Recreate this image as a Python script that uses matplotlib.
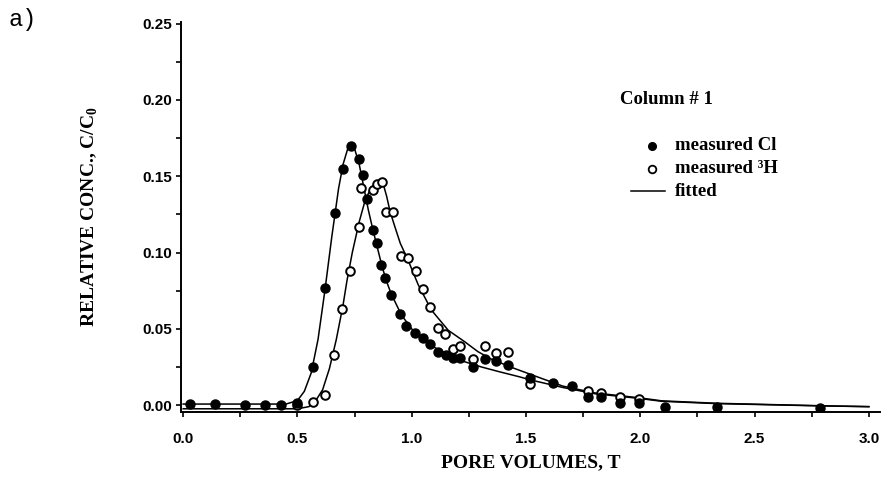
import matplotlib.pyplot as plt
from matplotlib.ticker import MultipleLocator, FormatStrFormatter

# measured Cl (filled circles)
cl_x = [0.03, 0.14, 0.27, 0.36, 0.43, 0.50, 0.567, 0.62, 0.664, 0.70, 0.736, 0.768,
        0.787, 0.806, 0.83, 0.85, 0.867, 0.885, 0.91, 0.948, 0.977, 1.016, 1.05, 1.08,
        1.117, 1.15, 1.18, 1.21, 1.27, 1.32, 1.37, 1.42, 1.516, 1.62, 1.70, 1.77, 1.83,
        1.91, 1.995, 2.11, 2.335, 2.787]
cl_y = [0.001, 0.001, 0.0, 0.0, 0.0, 0.0015, 0.025, 0.077, 0.1256, 0.155, 0.1697, 0.161,
        0.151, 0.135, 0.115, 0.106, 0.092, 0.083, 0.072, 0.060, 0.052, 0.047, 0.044, 0.040,
        0.0345, 0.033, 0.031, 0.031, 0.025, 0.0305, 0.029, 0.026, 0.018, 0.0144, 0.0125,
        0.0054, 0.005, 0.0015, 0.0015, -0.001, -0.001, -0.002]

# measured 3H (open circles)
h_x = [0.50, 0.568, 0.622, 0.66, 0.695, 0.73, 0.768, 0.78, 0.83, 0.85, 0.87, 0.886,
       0.918, 0.952, 0.984, 1.02, 1.05, 1.08, 1.114, 1.145, 1.18, 1.21, 1.27, 1.32,
       1.37, 1.42, 1.516, 1.77, 1.83, 1.91, 1.995]
h_y = [0.0, 0.002, 0.0066, 0.033, 0.063, 0.088, 0.1168, 0.1424, 0.141, 0.1446, 0.146,
       0.1267, 0.1267, 0.098, 0.0966, 0.0878, 0.076, 0.0646, 0.0504, 0.0465, 0.037,
       0.039, 0.030, 0.039, 0.034, 0.0345, 0.0137, 0.009, 0.008, 0.0054, 0.0037]

# fitted curves
fit_cl_x = [0.0, 0.45, 0.50, 0.53, 0.56, 0.59, 0.62, 0.65, 0.68, 0.70, 0.72, 0.735,
            0.75, 0.77, 0.79, 0.81, 0.83, 0.85, 0.87, 0.89, 0.91, 0.955, 1.01, 1.085,
            1.16, 1.23, 1.305, 1.38, 1.47, 1.52, 1.66, 1.80, 1.995, 2.094, 2.335, 2.787, 3.0]
fit_cl_y = [0.0007, 0.0007, 0.003, 0.009, 0.021, 0.043, 0.075, 0.110, 0.142, 0.158,
            0.168, 0.1715, 0.168, 0.158, 0.143, 0.128, 0.115, 0.103, 0.091, 0.081, 0.073,
            0.059, 0.048, 0.039, 0.033, 0.0285, 0.025, 0.022, 0.0186, 0.0165, 0.0116,
            0.0075, 0.0044, 0.0025, 0.001, -0.0005, -0.001]

fit_h_x = [0.0, 0.50, 0.55, 0.58, 0.61, 0.64, 0.67, 0.70, 0.716, 0.74, 0.77, 0.794,
           0.82, 0.845, 0.86, 0.875, 0.89, 0.905, 0.926, 0.95, 0.984, 1.028, 1.086,
           1.16, 1.232, 1.29, 1.35, 1.45, 1.55, 1.66, 1.80, 1.995, 2.094, 2.335, 2.787, 3.0]
fit_h_y = [-0.0024, -0.0024, -0.001, 0.003, 0.010, 0.024, 0.043, 0.066, 0.081, 0.100,
           0.120, 0.133, 0.142, 0.1465, 0.1474, 0.145, 0.137, 0.127, 0.117, 0.106, 0.095,
           0.079, 0.0623, 0.049, 0.0415, 0.035, 0.030, 0.024, 0.0185, 0.0125, 0.008,
           0.0048, 0.0028, 0.0012, -0.0004, -0.001]

xticks = [0.0, 0.5, 1.0, 1.5, 2.0, 2.5, 3.0]
yticks = [0.00, 0.05, 0.10, 0.15, 0.20, 0.25]

plt.rcParams['mathtext.fontset'] = 'custom'
plt.rcParams['mathtext.rm'] = 'Liberation Serif:bold'
plt.rcParams['mathtext.bf'] = 'Liberation Serif:bold'

fig = plt.figure(figsize=(8.91, 4.80), dpi=100)
ax = fig.add_axes([0.203, 0.142, 0.785, 0.812])

ax.plot(fit_cl_x, fit_cl_y, color='black', lw=1.1)
ax.plot(fit_h_x, fit_h_y, color='black', lw=1.1)
ax.plot(cl_x, cl_y, 'o', ms=6.5, mfc='black', mec='black', mew=1.0, zorder=5)
ax.plot(h_x, h_y, 'o', ms=6.2, mfc='white', mec='black', mew=1.4, zorder=4)

ax.set_xlim(-0.01, 3.05)
ax.set_ylim(-0.0044, 0.251)
ax.spines['top'].set_visible(False)
ax.spines['right'].set_visible(False)
for s in ('left', 'bottom'):
    ax.spines[s].set_linewidth(1.4)

ax.set_xticks(xticks)
ax.set_yticks(yticks)
ax.xaxis.set_minor_locator(MultipleLocator(0.25))
ax.yaxis.set_minor_locator(MultipleLocator(0.025))
ax.xaxis.set_major_formatter(FormatStrFormatter('%.1f'))
ax.yaxis.set_major_formatter(FormatStrFormatter('%.2f'))
ax.tick_params(axis='both', which='both', direction='out', length=3.5, width=1.2)
ax.tick_params(axis='x', which='major', pad=11)
ax.tick_params(axis='y', which='major', pad=3)
for lab in ax.get_xticklabels() + ax.get_yticklabels():
    lab.set_fontfamily('Liberation Sans')
    lab.set_fontweight('bold')
    lab.set_fontsize(11)

ax.set_xlabel('PORE VOLUMES, T', family='Liberation Serif', weight='bold',
              fontsize=14, labelpad=6)
ax.set_ylabel('RELATIVE CONC., C/C$_0$', family='Liberation Serif', weight='bold',
              fontsize=14, labelpad=30)

# legend drawn by hand as in the original
txt = dict(family='Liberation Serif', weight='bold', fontsize=13.5, va='center')
ax.text(1.91, 0.200, 'Column # 1', **txt)
ax.plot([2.05], [0.170], 'o', ms=5.5, mfc='black', mec='black')
ax.plot([2.05], [0.155], 'o', ms=5.5, mfc='white', mec='black', mew=1.3)
ax.plot([1.96, 2.11], [0.140, 0.140], color='black', lw=1.1)
ax.text(2.15, 0.170, 'measured Cl', **txt)
ax.text(2.15, 0.155, 'measured ³H', **txt)
ax.text(2.15, 0.140, 'fitted', **txt)

fig.text(0.009, 0.983, 'a)', family='Liberation Mono', fontsize=17, va='top', ha='left')

fig.savefig('out.png', dpi=100)
